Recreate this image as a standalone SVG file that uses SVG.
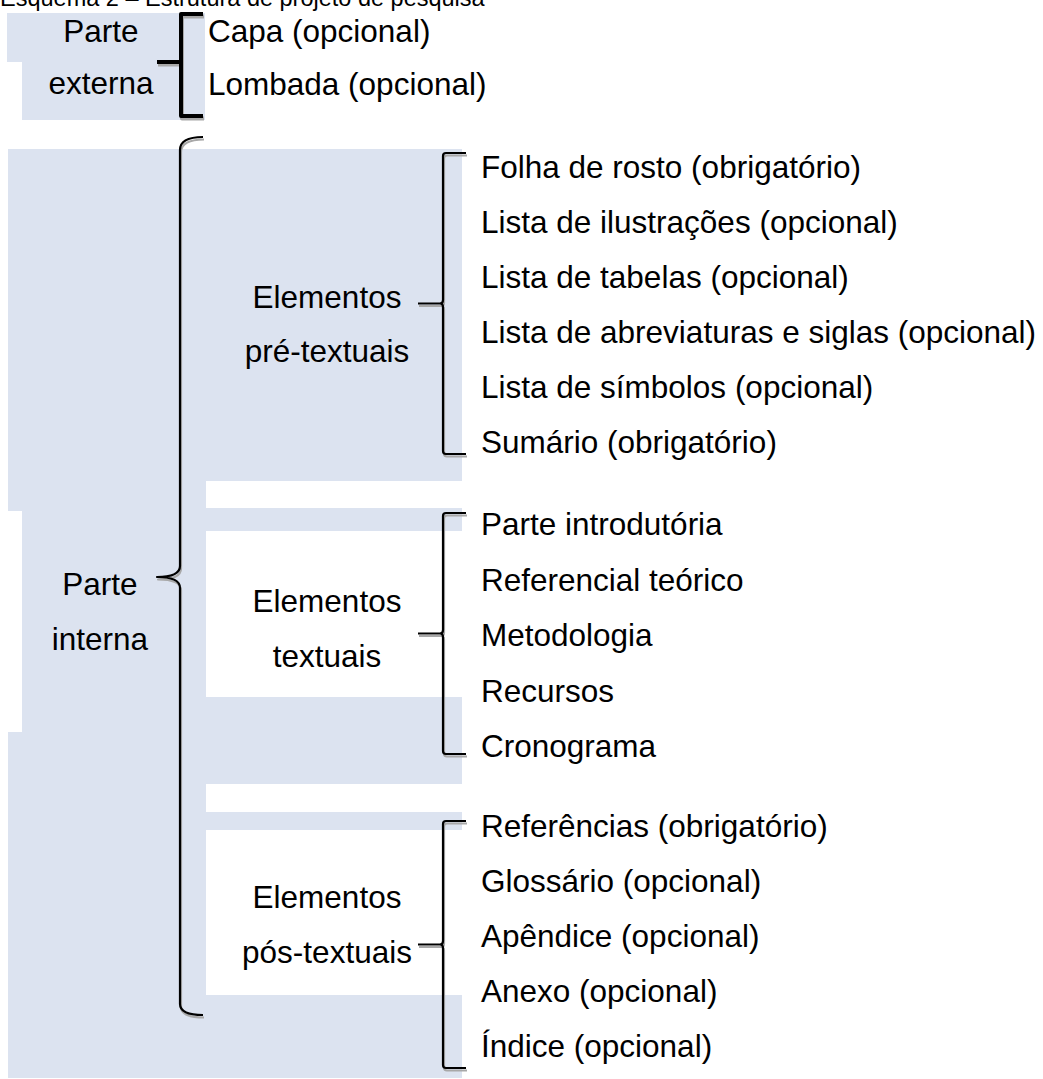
<svg xmlns="http://www.w3.org/2000/svg" width="1043" height="1079" viewBox="0 0 1043 1079">
<style>
text{font-family:"Liberation Sans",Arial,sans-serif;font-size:31.5px;fill:#000}
.c{text-anchor:middle}
.t{font-size:23.5px}
.bg{fill:#DCE3F0}
.br{fill:none;stroke:#000;stroke-width:2.2;stroke-linejoin:round}
.sh{fill:none;stroke:#A8A8A8;stroke-width:2.2;stroke-linejoin:round}
.thick{stroke-width:4}
</style>
<defs>
<path id="b1" d="M203,14 H181 V116 H203 M157,62 H181"/>
<path id="b2" d="M203,137 C190,137 180,140 180,150 V566 C180,574 170,577 157,577 C170,577 180,580 180,588 V1004 C180,1012 190,1015 203,1015"/>
<path id="b3" d="M466,153 H446 Q443,153 443,156 V300 Q443,303.5 440,303.5 H418 M440,303.5 Q443,303.5 443,307 V451 Q443,454 446,454 H466"/>
<path id="b4" d="M466,513 H446 Q443,513 443,516 V630 Q443,633.5 440,633.5 H418 M440,633.5 Q443,633.5 443,637 V751 Q443,754 446,754 H466"/>
<path id="b5" d="M466,821 H446 Q443,821 443,824 V941 Q443,944.5 440,944.5 H418 M440,944.5 Q443,944.5 443,948 V1065 Q443,1068 446,1068 H466"/>
</defs>
<g id="background">
<rect class="bg" x="7" y="13" width="198" height="49"/>
<rect class="bg" x="22" y="13" width="183" height="107"/>
<path class="bg" d="M8,149 H462 V481 H206 V508 H462 V531 H206 V697 H462 V784 H206 V812 H462 V830 H206 V995 H462 V1078 H8 V732 H22 V511 H8 Z"/>
</g>
<text class="t" x="0" y="6">Esquema 2 – Estrutura de projeto de pesquisa</text>
<g id="connectors">
<use href="#b1" class="sh thick" transform="translate(1,2.5)"/>
<use href="#b2" class="sh" transform="translate(1,2.5)"/>
<use href="#b3" class="sh" transform="translate(1,2.5)"/>
<use href="#b4" class="sh" transform="translate(1,2.5)"/>
<use href="#b5" class="sh" transform="translate(1,2.5)"/>
<use href="#b1" class="br thick"/>
<use href="#b2" class="br"/>
<use href="#b3" class="br"/>
<use href="#b4" class="br"/>
<use href="#b5" class="br"/>
</g>
<g id="parte-externa">
<text class="c" x="101" y="41.5">Parte</text>
<text class="c" x="101" y="94">externa</text>
</g>
<g id="externa-itens">
<text x="208" y="41.5">Capa (opcional)</text>
<text x="208" y="94.5">Lombada (opcional)</text>
</g>
<g id="parte-interna">
<text class="c" x="100" y="595">Parte</text>
<text class="c" x="100" y="650">interna</text>
</g>
<g id="pre-textuais">
<text class="c" x="327" y="307.5">Elementos</text>
<text class="c" x="327" y="362">pré-textuais</text>
</g>
<g id="textuais">
<text class="c" x="327" y="612">Elementos</text>
<text class="c" x="327" y="667">textuais</text>
</g>
<g id="pos-textuais">
<text class="c" x="327" y="908">Elementos</text>
<text class="c" x="327" y="963">pós-textuais</text>
</g>
<g id="pre-itens">
<text x="481" y="177.5">Folha de rosto (obrigatório)</text>
<text x="481" y="232.5">Lista de ilustrações (opcional)</text>
<text x="481" y="287.5">Lista de tabelas (opcional)</text>
<text x="481" y="342.5">Lista de abreviaturas e siglas (opcional)</text>
<text x="481" y="397.5">Lista de símbolos (opcional)</text>
<text x="481" y="452.5">Sumário (obrigatório)</text>
</g>
<g id="textuais-itens">
<text x="481" y="535">Parte introdutória</text>
<text x="481" y="590.5">Referencial teórico</text>
<text x="481" y="646">Metodologia</text>
<text x="481" y="701.5">Recursos</text>
<text x="481" y="757">Cronograma</text>
</g>
<g id="pos-itens">
<text x="481" y="837">Referências (obrigatório)</text>
<text x="481" y="892">Glossário (opcional)</text>
<text x="481" y="947">Apêndice (opcional)</text>
<text x="481" y="1002">Anexo (opcional)</text>
<text x="481" y="1057">Índice (opcional)</text>
</g>
</svg>
